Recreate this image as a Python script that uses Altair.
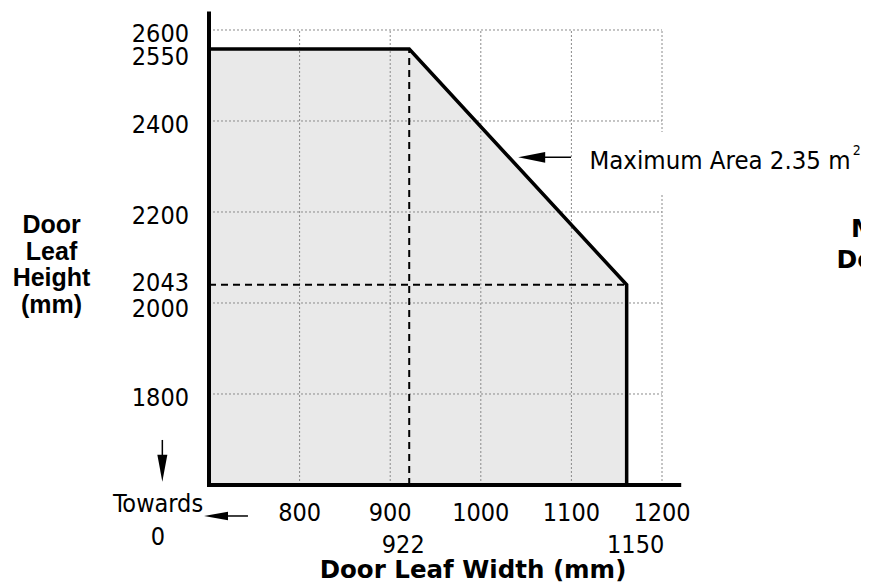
import altair as alt
import pandas as pd

# ---------------- values ----------------
x_tick_values = [800, 900, 1000, 1100, 1200]
y_tick_values = [1800, 2000, 2043, 2200, 2400, 2550, 2600]
grid_widths = [800, 900, 1000, 1100, 1200]
grid_heights = [1800, 2000, 2200, 2400, 2600]

# envelope corners as drawn (width mm, height mm)
envelope_widths = [700, 921, 1161, 1161]
envelope_heights = [2558, 2558, 2040, 1600]

width_floor = 700
height_floor = 1600
grid_top = 2600
grid_right = 1200
axis_x_end = 1219
axis_y_end = 2636

marked_width = 921      # dashed vertical, labelled 922
marked_height = 2040    # dashed horizontal, labelled 2043
marked_width_label = "922"
max_width_label = "1150"
area_label = "Maximum Area 2.35 m"
area_label_sup = "2"
y_title_lines = ["Door", "Leaf", "Height", "(mm)"]
x_title = "Door Leaf Width (mm)"
towards_lines = ["Towards", "0"]
cut_lines = ["Maximum", "Door"]

# ---------------- scales ----------------
PLOT_W = 652
PLOT_H = 473
XMAX = 700 + PLOT_W / 0.906
YMAX = 2639.56
xs = alt.Scale(domain=[width_floor, XMAX], nice=False, zero=False)
ys = alt.Scale(domain=[height_floor, YMAX], nice=False, zero=False)

REG = "DejaVu Sans Condensed, DejaVu Sans"
BOLD = "DejaVu Sans"
ARIALB = "Liberation Sans"


def XD(v):
    return alt.XDatum(v, scale=xs, axis=None)


def YD(v):
    return alt.YDatum(v, scale=ys, axis=None)


# ---------------- tables ----------------
area_df = pd.DataFrame({
    "w": envelope_widths[:3],
    "h": envelope_heights[:3],
    "base": [height_floor] * 3,
})
env_df = pd.DataFrame({
    "w": envelope_widths,
    "h": envelope_heights,
    "o": list(range(len(envelope_widths))),
})
gv_df = pd.DataFrame({"w": grid_widths})
gh_df = pd.DataFrame({"h": grid_heights})
xt_df = pd.DataFrame({"v": x_tick_values})
yt_df = pd.DataFrame({"v": y_tick_values})

# ---------------- layers ----------------
fill = alt.Chart(area_df).mark_area(color="#e9e9e9", opacity=1).encode(
    x=alt.X("w:Q", scale=xs, axis=None),
    y=alt.Y("h:Q", scale=ys, axis=None),
    y2="base:Q",
)

grid_style = dict(color="#8a8a8a", strokeDash=[2, 2], strokeWidth=1)
grid_v = alt.Chart(gv_df).mark_rule(**grid_style).encode(
    x=alt.X("w:Q", scale=xs, axis=None),
    y=YD(height_floor), y2=alt.datum(grid_top),
)
grid_h = alt.Chart(gh_df).mark_rule(**grid_style).encode(
    y=alt.Y("h:Q", scale=ys, axis=None),
    x=XD(width_floor), x2=alt.datum(grid_right),
)

label_box = alt.Chart().mark_rect(color="white").encode(
    x=XD(1102), x2=alt.datum(XMAX), y=YD(2376), y2=alt.datum(2240),
)

dash_style = dict(color="black", strokeDash=[7, 5], strokeWidth=2)
dash_v = alt.Chart().mark_rule(**dash_style).encode(
    x=XD(marked_width), y=YD(height_floor), y2=alt.datum(envelope_heights[0]),
)
dash_h = alt.Chart().mark_rule(**dash_style).encode(
    y=YD(marked_height), x=XD(width_floor), x2=alt.datum(envelope_widths[2]),
)

envelope = alt.Chart(env_df).mark_line(color="black", strokeWidth=3.5,
                                       strokeJoin="miter").encode(
    x=alt.X("w:Q", scale=xs, axis=None),
    y=alt.Y("h:Q", scale=ys, axis=None),
    order="o:Q",
)

axis_style = dict(color="black", strokeWidth=4, strokeCap="square")
y_line = alt.Chart().mark_rule(**axis_style).encode(
    x=XD(width_floor), y=YD(height_floor), y2=alt.datum(axis_y_end),
)
x_line = alt.Chart().mark_rule(**axis_style).encode(
    y=YD(height_floor), x=XD(width_floor), x2=alt.datum(axis_x_end),
)

# tick labels
x_labels = alt.Chart(xt_df).mark_text(
    font=REG, fontSize=25, align="center", baseline="alphabetic",
    color="black").encode(
    x=alt.X("v:Q", scale=xs, axis=None), y=YD(1520.9),
    text=alt.Text("v:Q", format="d"))


def y_label_layer(values, dy):
    return alt.Chart(yt_df).transform_filter(
        alt.FieldOneOfPredicate(field="v", oneOf=values)
    ).mark_text(
        font=REG, fontSize=25, align="right", baseline="middle", dx=-20, dy=dy,
        color="black").encode(
        y=alt.Y("v:Q", scale=ys, axis=None), x=XD(width_floor),
        text=alt.Text("v:Q", format="d"))


y_labels_main = y_label_layer([1800, 2200, 2400, 2550, 2600], 4.5)
y_labels_up = y_label_layer([2043], 0)
y_labels_down = y_label_layer([2000], 6.3)

# arrows
shaft = dict(color="black", strokeWidth=1.5)
down_shaft = alt.Chart().mark_rule(**shaft).encode(
    x=XD(648.5), y=YD(1699), y2=alt.datum(1655))
down_head = alt.Chart().mark_point(
    shape="M-0.37,-1L0.37,-1L0,1Z", size=729, filled=True, color="black",
    opacity=1, strokeWidth=0).encode(x=XD(648.5), y=YD(1636.6))

left_shaft = alt.Chart().mark_rule(**shaft).encode(
    y=YD(1531.9), x=XD(743), x2=alt.datum(712))
left_head = alt.Chart().mark_point(
    shape="M1,-0.36L1,0.36L-1,0Z", size=576, filled=True, color="black",
    opacity=1, strokeWidth=0).encode(x=XD(707.7), y=YD(1531.9))

area_shaft = alt.Chart().mark_rule(**shaft).encode(
    y=YD(2320.2), x=XD(1099.6), x2=alt.datum(1060))
area_head = alt.Chart().mark_point(
    shape="M1,-0.4L1,0.4L-1,0Z", size=729, filled=True, color="black",
    opacity=1, strokeWidth=0).encode(x=XD(1056.2), y=YD(2320.2))

# texts
area_text = alt.Chart().mark_text(
    text=area_label, font=REG, fontSize=25.5, align="left",
    baseline="alphabetic", color="black").encode(x=XD(1120), y=YD(2294.5))
area_sup = alt.Chart().mark_text(
    text=area_label_sup, font=REG, fontSize=14, align="left",
    baseline="alphabetic", color="black").encode(x=XD(1410.5), y=YD(2325.3))

label_922 = alt.Chart().mark_text(
    text=marked_width_label, font=REG, fontSize=25, align="center",
    baseline="alphabetic", color="black", dx=-6).encode(
    x=XD(marked_width), y=YD(1451.6))
label_1150 = alt.Chart().mark_text(
    text=max_width_label, font=REG, fontSize=25, align="center",
    baseline="alphabetic", color="black", dx=9).encode(
    x=XD(envelope_widths[2]), y=YD(1451.6))

towards = alt.Chart().mark_text(
    text=towards_lines, font=REG, fontSize=25, align="center",
    baseline="alphabetic", lineHeight=33.3, color="black").encode(
    x=XD(643.7), y=YD(1541.3))

y_title = alt.Chart().mark_text(
    text=y_title_lines, font=ARIALB, fontWeight="bold", fontSize=25,
    align="center", baseline="alphabetic", lineHeight=26.5,
    color="black").encode(x=XD(526.2), y=YD(2153.8))

x_title_mark = alt.Chart().mark_text(
    text=x_title, font=BOLD, fontWeight="bold", fontSize=24.5, align="center",
    baseline="alphabetic", color="black").encode(x=XD(991.4), y=YD(1394.9))

cut1 = alt.Chart().mark_text(
    text=cut_lines[0], font=BOLD, fontWeight="bold", fontSize=25,
    align="left", baseline="alphabetic", color="black").encode(
    x=XD(1408.5), y=YD(2145.7))
cut2 = alt.Chart().mark_text(
    text=cut_lines[1], font=BOLD, fontWeight="bold", fontSize=25,
    align="left", baseline="alphabetic", color="black").encode(
    x=XD(1392.5), y=YD(2077.6))

chart = alt.layer(
    fill, grid_v, grid_h, label_box, dash_v, dash_h, envelope,
    y_line, x_line, x_labels, y_labels_main, y_labels_up, y_labels_down,
    down_shaft, down_head, left_shaft, left_head, area_shaft, area_head,
    area_text, area_sup, label_922, label_1150, towards, y_title,
    x_title_mark, cut1, cut2,
).properties(
    width=PLOT_W,
    height=PLOT_H,
    autosize=alt.AutoSizeParams(type="none"),
    padding={"left": 201, "top": 4, "right": 0, "bottom": 100},
    background="white",
).configure_view(stroke=None)

chart.save("out.html", embed_options={"renderer": "svg", "actions": False})
